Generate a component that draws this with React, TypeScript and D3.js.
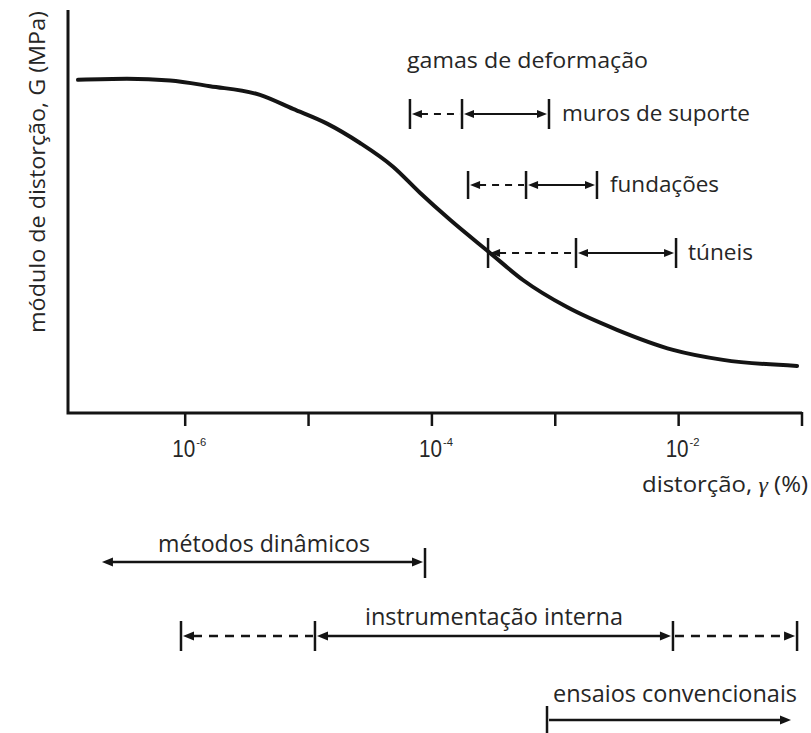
import React from "react";
import * as d3 from "d3";

// Shear modulus degradation curve: log10(γ %) vs normalised G
const curveLogGamma = [-6.869, -6.472, -6.123, -5.799, -5.394, -5.126, -4.85, -4.583, -4.315, -4.097, -3.853, -3.529, -3.262, -2.905, -2.5, -2.046, -1.64, -1.04];
const curveG = [0.997, 1.0, 0.995, 0.978, 0.952, 0.91, 0.866, 0.808, 0.737, 0.659, 0.578, 0.479, 0.398, 0.317, 0.249, 0.189, 0.159, 0.141];

// Axis ticks (decades) and which of them carry a label
const tickExponents = [-6, -5, -4, -3, -2, -1];
const labelledExponents = [-6, -4, -2];

// Strain ranges of typical structures (log10 γ): dashed start, solid middle, end
const structureNames = ["muros de suporte", "fundações", "túneis"];
const structureBounds = [
  [-4.178, -3.756, -3.051],
  [-3.707, -3.237, -2.662],
  [-3.545, -2.832, -2.021],
];

// Strain ranges covered by measuring methods (log10 γ)
const methodNames = ["métodos dinâmicos", "instrumentação interna", "ensaios convencionais"];
const methodTicks = [[-4.056], [-6.034, -4.948, -2.046, -1.04], [-3.067]];
type Seg = { from: number; to: number; dashed: boolean; arrows: "start" | "end" | "both" };
const methodSegments: Seg[][] = [
  [{ from: -6.691, to: -4.056, dashed: false, arrows: "both" }],
  [
    { from: -6.034, to: -4.948, dashed: true, arrows: "start" },
    { from: -4.948, to: -2.046, dashed: false, arrows: "both" },
    { from: -2.046, to: -1.04, dashed: true, arrows: "end" },
  ],
  [{ from: -3.067, to: -1.073, dashed: false, arrows: "end" }],
];

const W = 811;
const H = 733;
const FONT = "'Open Sans', 'Noto Sans', sans-serif";
const INK = "#141414";
const TXT = "#262626";

export default function App() {
  const x = d3.scaleLog().domain([Math.pow(10, -6.95), 1e-1]).range([68, 802]);
  const y = d3.scaleLinear().domain([0, 1.2]).range([413, 12]);
  const xl = (l: number) => x(Math.pow(10, l));

  const line = d3
    .line<number>()
    .x((_, i) => xl(curveLogGamma[i]))
    .y((g) => y(g))
    .curve(d3.curveMonotoneX);

  const arrow = (tip: number, yy: number, dir: number, len: number, hw: number, key: string) => (
    <polygon
      key={key}
      points={`${tip},${yy} ${tip - dir * len},${yy - hw} ${tip - dir * len},${yy + hw}`}
      fill={INK}
    />
  );

  // One piece of a range bar between two log positions
  const segment = (s: Seg, yy: number, key: string, opt: { sw: number; dash: string; len: number; hw: number; gap: number }) => {
    const x0 = xl(s.from) + opt.gap;
    const x1 = xl(s.to) - opt.gap;
    const hasStart = s.arrows === "start" || s.arrows === "both";
    const hasEnd = s.arrows === "end" || s.arrows === "both";
    const lx0 = hasStart ? x0 + opt.len - 1 : x0;
    const lx1 = hasEnd ? x1 - opt.len + 1 : x1;
    return (
      <g key={key}>
        <line x1={lx0} x2={lx1} y1={yy} y2={yy} stroke={INK} strokeWidth={opt.sw} strokeDasharray={s.dashed ? opt.dash : undefined} />
        {hasStart && arrow(x0, yy, -1, opt.len, opt.hw, key + "s")}
        {hasEnd && arrow(x1, yy, 1, opt.len, opt.hw, key + "e")}
      </g>
    );
  };

  const structRowY = [114, 185, 253];
  const structTickHalf = [15, 14, 15];
  const structLabelX = [562, 610, 688];
  const structLabelW = [188, 109, 65];

  const methodRowY = [562, 636, 720];
  const methodTickSpan: [number, number][] = [[548, 578], [621, 651], [706, 733]];
  const methodLabel = [
    { x: 158, y: 552, w: 212 },
    { x: 365, y: 625, w: 258 },
    { x: 553, y: 702, w: 244 },
  ];

  return (
    <svg width={W} height={H} style={{ position: "absolute", left: 0, top: 0, background: "#fff" }}>
      <rect width={W} height={H} fill="#fff" />
      {/* axes */}
      <path d={`M68,10 V413 H802`} fill="none" stroke={INK} strokeWidth={3} />
      {tickExponents.map((e) => (
        <line key={e} x1={xl(e)} x2={xl(e)} y1={412} y2={426} stroke={INK} strokeWidth={2.5} />
      ))}
      {labelledExponents.map((e) => (
        <g key={e} fill={TXT} fontFamily="'Liberation Sans', Arial, sans-serif">
          <text x={xl(e) - 13} y={457} fontSize={23} textLength={23} lengthAdjust="spacingAndGlyphs">
            10
          </text>
          <text x={xl(e) + 11} y={446} fontSize={11} textLength={10} lengthAdjust="spacingAndGlyphs">
            -{Math.abs(e)}
          </text>
        </g>
      ))}
      <text x={642} y={492} fontFamily={FONT} fontSize={21} fill={TXT} textLength={166} lengthAdjust="spacingAndGlyphs">
        distorção, <tspan fontFamily="'Liberation Serif', 'DejaVu Serif', serif" fontStyle="italic">γ</tspan> (%)
      </text>
      <text
        transform="translate(45,172) rotate(-90)"
        textAnchor="middle"
        fontFamily={FONT}
        fontSize={21}
        fill={TXT}
        textLength={322}
        lengthAdjust="spacingAndGlyphs"
      >
        módulo de distorção, G (MPa)
      </text>

      {/* degradation curve */}
      <path d={line(curveG) || ""} fill="none" stroke={INK} strokeWidth={4} strokeLinecap="round" strokeLinejoin="round" />

      {/* strain ranges of structures */}
      <text x={407} y={68} fontFamily={FONT} fontSize={21} fill={TXT} textLength={241} lengthAdjust="spacingAndGlyphs">
        gamas de deformação
      </text>
      {structureNames.map((name, r) => {
        const b = structureBounds[r];
        const yy = structRowY[r];
        const opt = { sw: 2, dash: "7 6", len: 10, hw: 4, gap: 2 };
        return (
          <g key={name}>
            {b.map((v, i) => (
              <line key={i} x1={xl(v)} x2={xl(v)} y1={yy - structTickHalf[r]} y2={yy + structTickHalf[r]} stroke={INK} strokeWidth={2.5} />
            ))}
            {segment({ from: b[0], to: b[1], dashed: true, arrows: "start" }, yy, name + "a", opt)}
            {segment({ from: b[1], to: b[2], dashed: false, arrows: "both" }, yy, name + "b", opt)}
            <text x={structLabelX[r]} y={yy + 7} fontFamily={FONT} fontSize={21} fill={TXT} textLength={structLabelW[r]} lengthAdjust="spacingAndGlyphs">
              {name}
            </text>
          </g>
        );
      })}

      {/* strain ranges of measuring methods */}
      {methodNames.map((name, r) => {
        const yy = methodRowY[r];
        const opt = { sw: 2.5, dash: "9 7", len: 11, hw: 4.5, gap: 2 };
        return (
          <g key={name}>
            {methodTicks[r].map((v, i) => (
              <line key={i} x1={xl(v)} x2={xl(v)} y1={methodTickSpan[r][0]} y2={methodTickSpan[r][1]} stroke={INK} strokeWidth={2.5} />
            ))}
            {methodSegments[r].map((s, i) => segment(s, yy, name + i, opt))}
            <text x={methodLabel[r].x} y={methodLabel[r].y} fontFamily={FONT} fontSize={23} fill={TXT} textLength={methodLabel[r].w} lengthAdjust="spacingAndGlyphs">
              {name}
            </text>
          </g>
        );
      })}
    </svg>
  );
}
